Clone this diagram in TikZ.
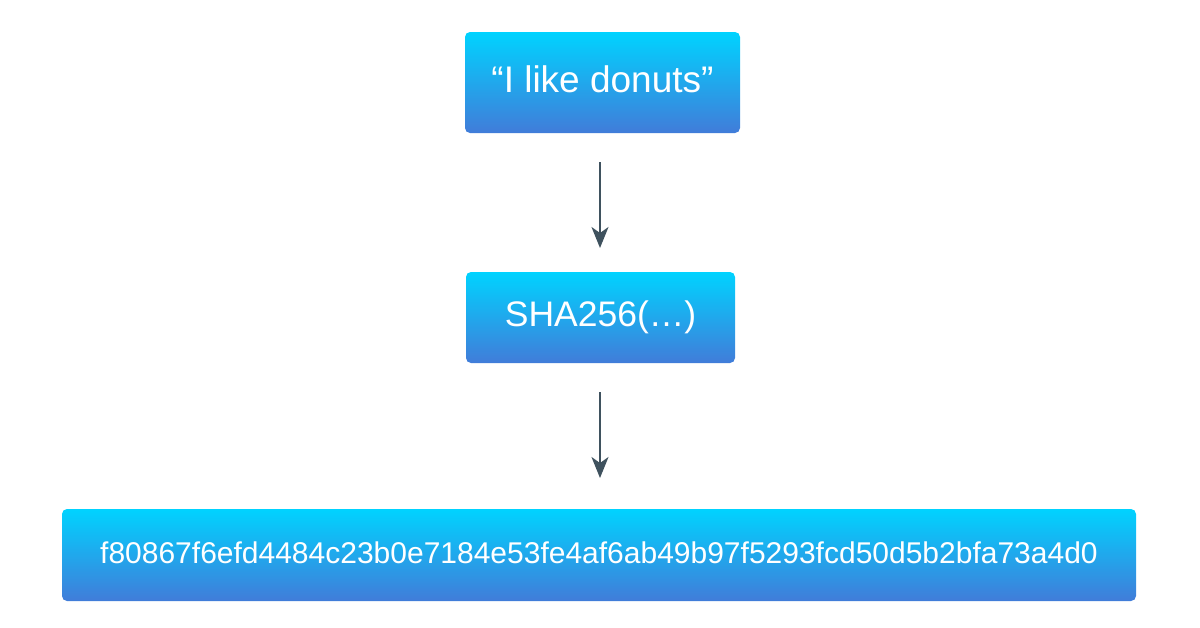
\documentclass[tikz,border=0pt]{standalone}
\usepackage{fontspec}
\setmainfont{Liberation Sans}
\usetikzlibrary{arrows.meta}
\definecolor{topc}{HTML}{00D3FF}
\definecolor{botc}{HTML}{417CD9}
\definecolor{arr}{HTML}{3F525E}
\tikzset{
  box/.style={rounded corners=5pt, top color=topc, bottom color=botc, draw=none,
    text=white, inner sep=0pt, anchor=center},
  conn/.style={draw=arr, line width=1.8pt, -{Stealth[length=21pt,width=17pt,inset=6pt]}}
}
\begin{document}
\begin{tikzpicture}[x=1pt,y=-1pt]
\useasboundingbox (0,0) rectangle (1200,627);
\node[box, minimum width=275pt, minimum height=101pt, text depth=6pt, font=\fontsize{37}{42}\selectfont] (a) at (602.5,82.5) {“I like donuts”};
\node[box, minimum width=269pt, minimum height=91pt, font=\fontsize{35.5}{40}\selectfont] (b) at (600.5,317.5) {SHA256(…)};
\node[box, minimum width=1074pt, minimum height=92pt, text depth=5pt, font=\fontsize{30}{34}\selectfont] (c) at (599,555) {f80867f6efd4484c23b0e7184e53fe4af6ab49b97f5293fcd50d5b2bfa73a4d0};
\coordinate (a1) at (600,162);
\coordinate (a2) at (600,248);
\coordinate (b1) at (600,392);
\coordinate (b2) at (600,478);
\draw[conn] (a1) -- (a2);
\draw[conn] (b1) -- (b2);
\end{tikzpicture}
\end{document}
